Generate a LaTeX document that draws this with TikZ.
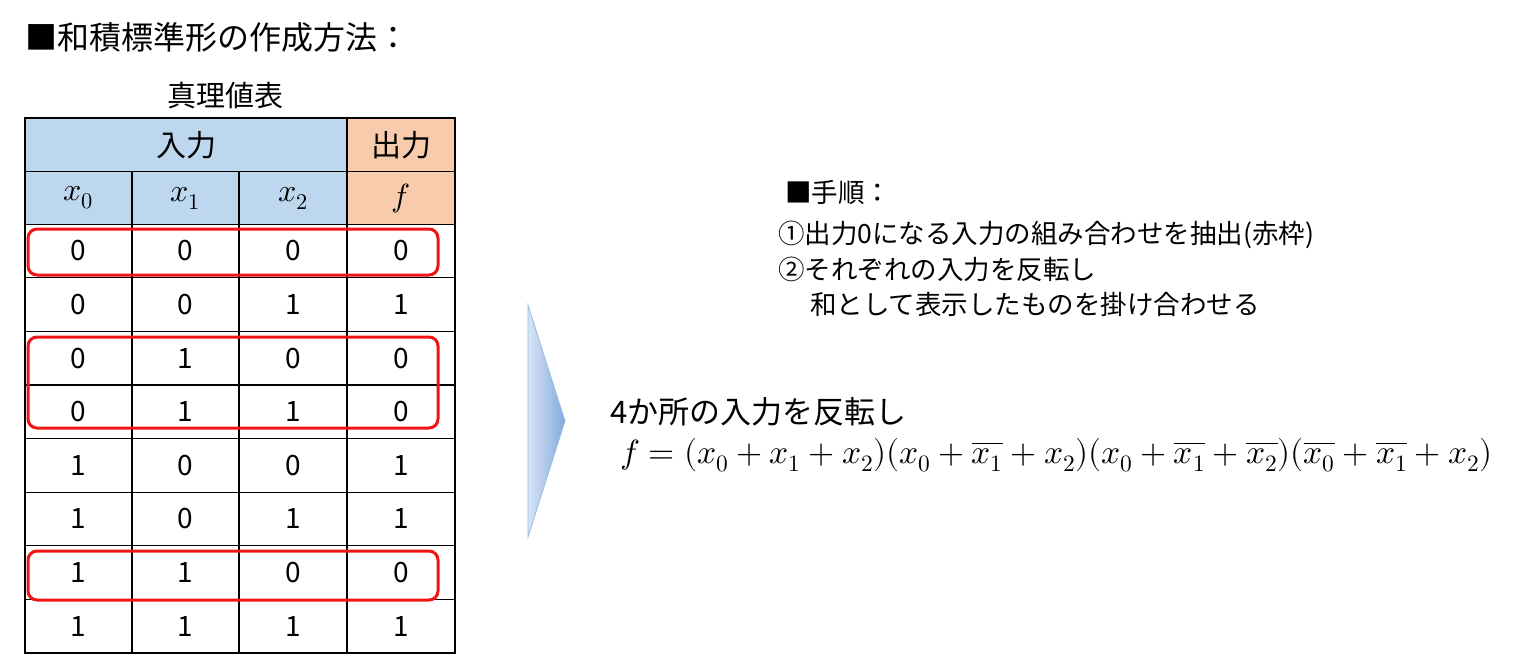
\documentclass[tikz,border=0pt]{standalone}
\usepackage{fontspec}
\usepackage{unicode-math}
\setmathfont{Latin Modern Math}
\setmainfont{Noto Sans CJK JP}
\definecolor{hblue}{RGB}{189,215,238}
\definecolor{horange}{RGB}{248,203,173}
\definecolor{rbox}{RGB}{240,20,20}
\definecolor{arr1}{RGB}{215,228,245}
\definecolor{arr2}{RGB}{130,170,220}
\begin{document}
\begin{tikzpicture}[x=1pt,y=-1pt,
  cell/.style={draw=black,line width=1.2pt,minimum width=107pt,minimum height=53.6pt,inner sep=0pt,font=\fontsize{28}{30}\selectfont},
  redbox/.style={draw=rbox,line width=3pt,rounded corners=9pt},
  txt/.style={anchor=west,inner sep=0pt,font=\fontsize{26.5}{30}\selectfont}]
\useasboundingbox (0,0) rectangle (1536,667);
% title
\node[txt,font=\fontsize{32}{36}\selectfont] (title) at (25,37) {■和積標準形の作成方法：};
\node[inner sep=0pt,font=\fontsize{29}{32}\selectfont] (cap) at (225,95) {真理値表};
% header
\node[cell,fill=hblue,minimum width=322pt,minimum height=54pt,font=\fontsize{30}{32}\selectfont] (hin) at (186,145) {入力};
\node[cell,fill=horange,minimum width=108pt,minimum height=54pt,font=\fontsize{30}{32}\selectfont] (hout) at (401,145) {出力};
\node[cell,fill=hblue,font=\fontsize{32}{34}\selectfont] (v0) at (78.5,198) {$x_0$};
\node[cell,fill=hblue,font=\fontsize{32}{34}\selectfont] (v1) at (185.5,198) {$x_1$};
\node[cell,fill=hblue,font=\fontsize{32}{34}\selectfont] (v2) at (293,198) {$x_2$};
\node[cell,fill=horange,minimum width=108pt,font=\fontsize{32}{34}\selectfont] (vf) at (401,198) {$f$};
\foreach \a/\b/\c/\f [count=\i from 0] in {0/0/0/0,0/0/1/1,0/1/0/0,0/1/1/0,1/0/0/1,1/0/1/1,1/1/0/0,1/1/1/1}{
  \pgfmathsetmacro{\yy}{251+53.6*\i}
  \node[cell] (a\i) at (78.5,\yy) {\a};
  \node[cell] (b\i) at (185.5,\yy) {\b};
  \node[cell] (c\i) at (293,\yy) {\c};
  \node[cell,minimum width=108pt] (f\i) at (401,\yy) {\f};
}
% red boxes
\draw[redbox] (28,229) rectangle (438,275);
\draw[redbox] (28,337) rectangle (438,428);
\draw[redbox] (28,551) rectangle (438,600);
% arrow
\shade[left color=arr1,right color=arr2] (528,305) -- (565,421) -- (528,537) -- cycle;
\draw[arr2!80!white,line width=0.8pt] (528,305) -- (565,421) -- (528,537) -- cycle;
% steps
\node[txt] (s0) at (785,192) {■手順：};
\node[txt] (s1) at (778,235) {①出力0になる入力の組み合わせを抽出(赤枠)};
\node[txt] (s2) at (778,269) {②それぞれの入力を反転し};
\node[txt] (s3) at (810,304) {和として表示したものを掛け合わせる};
% formula
\node[txt,font=\fontsize{31}{34}\selectfont] (r1) at (610,412) {4か所の入力を反転し};
\node[txt,font=\fontsize{33.5}{36}\selectfont] (r2) at (620,455) {$f=(x_0+x_1+x_2)(x_0+\overline{x_1}+x_2)(x_0+\overline{x_1}+\overline{x_2})(\overline{x_0}+\overline{x_1}+x_2)$};
\end{tikzpicture}
\end{document}
